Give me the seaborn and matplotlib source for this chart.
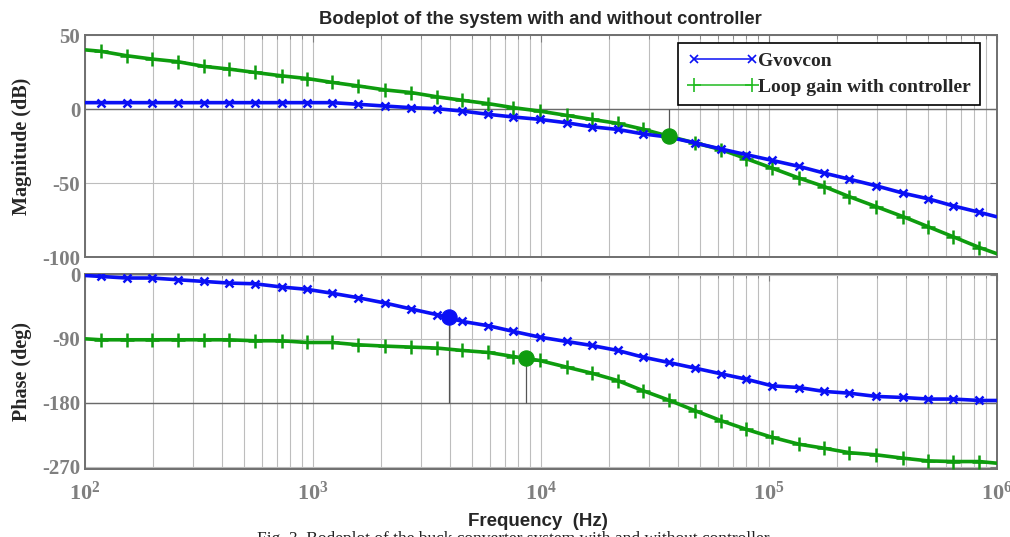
import matplotlib
matplotlib.use("Agg")
import matplotlib.pyplot as plt
import seaborn as sns
from matplotlib.lines import Line2D
from matplotlib.ticker import LogLocator, NullFormatter

# frequencies (Hz) of the plotted points (markers sit on the inner ones)
freq = [100, 118, 153, 197, 256, 334, 430, 559, 734, 946, 1218, 1585, 2083,
        2710, 3526, 4541, 5908, 7608, 9900, 13010, 16760, 21800, 28080, 36530,
        47530, 61820, 79620, 103600, 136200, 175400, 225800, 296800, 390100,
        502400, 647100, 841400, 1000000]

gvovcon_mag = [4.3, 4.3, 4.3, 4.3, 4.3, 4.3, 4.3, 4.3, 4.3, 4.3, 4.3, 3.2, 2.0,
               0.9, 0.2, -1.4, -3.6, -5.4, -7.0, -9.3, -12.0, -13.8, -16.8, -19.0,
               -22.9, -27.0, -30.8, -34.7, -38.8, -43.3, -47.4, -51.9, -56.9,
               -60.7, -65.5, -69.8, -72.8]
loop_mag = [40, 39, 36, 33.8, 32, 28.8, 27, 24.7, 22.4, 20.6, 18, 15.6, 12.9,
            11.1, 8.2, 5.9, 3.6, 0.9, -1.4, -4.3, -7.0, -9.7, -13.6, -18.4,
            -22.9, -27.4, -33.5, -39.9, -46.7, -52.4, -59.2, -66, -72.8,
            -79.6, -86.4, -93.6, -97.7]

gvovcon_phase = [-1, -2.4, -4.6, -4.6, -7, -9.4, -11.7, -12.7, -17.3, -20.5,
                 -26, -32.3, -39.8, -48.2, -56.2, -65.6, -71.7, -79.7, -87.6,
                 -93.8, -99.4, -106.4, -115.7, -123.3, -131.2, -139.2, -146.7,
                 -156.1, -158.5, -164, -166.4, -171, -172.5, -174.7, -174.7,
                 -176.7, -176.7]
loop_phase = [-90, -91.4, -91.4, -91.4, -91.4, -91.4, -91.4, -92.8, -92.8,
              -95.2, -95.2, -98.4, -100.3, -101.7, -103.1, -106.4, -109.2,
              -114.9, -120.5, -129.8, -138.3, -148.7, -162.8, -176.2, -190.9,
              -205, -217.1, -228.4, -238.2, -243.8, -250, -253.1, -257.8,
              -261.6, -262.5, -262.5, -264.8]

# stability margin points
gm_freq, gm_mag = 36530, -18.4
pm_blue_freq, pm_blue_phase = 3981, -59.5
pm_green_freq, pm_green_phase = 8670, -117.2

mag_ticks = [50, 0, -50, -100]
phase_ticks = [0, -90, -180, -270]
decades = [1e2, 1e3, 1e4, 1e5, 1e6]
decade_labels = [r"$\mathbf{10^{2}}$", r"$\mathbf{10^{3}}$", r"$\mathbf{10^{4}}$",
                 r"$\mathbf{10^{5}}$", r"$\mathbf{10^{6}}$"]

BLUE = "#0a10f5"
GREEN = "#0e9c0e"
GRAY = "#7f7f7f"
GRID = "#bdbdbd"

sns.set_style("white")
plt.rcParams["font.family"] = ["Liberation Serif", "DejaVu Sans"]
plt.rcParams["axes.unicode_minus"] = False
plt.rcParams["mathtext.fontset"] = "custom"
plt.rcParams["mathtext.rm"] = "Liberation Serif"
plt.rcParams["mathtext.bf"] = "Liberation Serif:bold"

fig = plt.figure(figsize=(10.1, 5.37), dpi=100)
ax1 = fig.add_axes([0.0837, 0.5214, 0.903, 0.4134])
ax2 = fig.add_axes([0.0837, 0.1266, 0.903, 0.3631])

for ax in (ax1, ax2):
    ax.set_xscale("log")

inner = slice(1, -1)
sns.lineplot(x=freq, y=gvovcon_mag, ax=ax1, color=BLUE, lw=2.6, marker="x",
             ms=6, mew=1.8, mec=BLUE, markevery=inner, sort=False, legend=False, zorder=4)
sns.lineplot(x=freq, y=loop_mag, ax=ax1, color=GREEN, lw=2.6, marker="+",
             ms=10, mew=1.8, mec=GREEN, markevery=inner, sort=False, legend=False, zorder=3)
sns.lineplot(x=freq, y=gvovcon_phase, ax=ax2, color=BLUE, lw=2.6, marker="x",
             ms=6, mew=1.8, mec=BLUE, markevery=inner, sort=False, legend=False, zorder=4)
sns.lineplot(x=freq, y=loop_phase, ax=ax2, color=GREEN, lw=2.6, marker="+",
             ms=10, mew=1.8, mec=GREEN, markevery=inner, sort=False, legend=False, zorder=3)

# margin markers
ax1.vlines(gm_freq, gm_mag, 0, color="#555555", lw=0.9, zorder=2)
ax2.vlines(pm_blue_freq, -180, pm_blue_phase, color="#555555", lw=0.9, zorder=2)
ax2.vlines(pm_green_freq, -180, pm_green_phase, color="#555555", lw=0.9, zorder=2)
sns.scatterplot(x=[gm_freq], y=[gm_mag], ax=ax1, color=GREEN, s=120,
                edgecolor=GREEN, zorder=6, legend=False)
sns.scatterplot(x=[pm_blue_freq], y=[pm_blue_phase], ax=ax2, color=BLUE, s=120,
                edgecolor=BLUE, zorder=6, legend=False)
sns.scatterplot(x=[pm_green_freq], y=[pm_green_phase], ax=ax2, color=GREEN, s=120,
                edgecolor=GREEN, zorder=6, legend=False)

ax1.set_ylim(-100, 50)
ax2.set_ylim(-273, 1)
ax1.set_yticks(mag_ticks)
ax1.set_yticklabels([str(t) for t in mag_ticks])
ax2.set_yticks(phase_ticks)
ax2.set_yticklabels([str(t) for t in phase_ticks])
ax1.axhline(0, color="#6a6a6a", lw=1.0, zorder=1)
ax2.axhline(-180, color="#6a6a6a", lw=1.0, zorder=1)

for ax in (ax1, ax2):
    ax.set_xlim(100, 1e6)
    ax.set_xticks(decades)
    ax.xaxis.set_minor_locator(LogLocator(base=10, subs=range(2, 10), numticks=20))
    ax.xaxis.set_minor_formatter(NullFormatter())
    ax.grid(True, which="both", axis="x", color=GRID, lw=0.8)
    ax.grid(True, which="major", axis="y", color=GRID, lw=0.8)
    ax.tick_params(which="both", direction="in", top=True, right=True, color=GRAY)
    ax.tick_params(which="major", length=5)
    ax.tick_params(which="minor", length=3)
    ax.tick_params(axis="y", pad=3, labelcolor=GRAY, labelsize=15)
    for lab in ax.get_yticklabels():
        lab.set_fontweight("bold")
    for sp in ax.spines.values():
        sp.set_color("#6f6f6f")
        sp.set_linewidth(1.4)
    ax.set_xlabel("")
    ax.set_ylabel("")

ax1.set_xticklabels([])
ax2.set_xticklabels(decade_labels)
ax2.tick_params(axis="x", pad=9, labelcolor=GRAY, labelsize=16)

ax1.set_ylabel("Magnitude (dB)", fontsize=14.5, fontweight="bold")
ax2.set_ylabel("Phase (deg)", fontsize=14.5, fontweight="bold")
ax1.yaxis.set_label_coords(-0.058, 0.5)
ax2.yaxis.set_label_coords(-0.058, 0.5)

ax1.set_title("Bodeplot of the system with and without controller",
              family="Liberation Sans", fontsize=13.2, fontweight="bold", pad=8)
ax2.set_xlabel("Frequency  (Hz)", family="Liberation Sans", fontsize=13.5,
               fontweight="bold")
ax2.xaxis.set_label_coords(0.497, -0.225)

handles = [Line2D([], [], color=BLUE, lw=1.1, marker="x", ms=6, mew=1.2),
           Line2D([], [], color="#22bb22", lw=1.1, marker="+", ms=10, mew=1.2)]
leg = ax1.legend(handles, ["Gvovcon", "Loop gain with controller"],
                 loc="upper right", bbox_to_anchor=(0.982, 0.965), numpoints=2,
                 borderaxespad=0.0, handlelength=3.6, handletextpad=0.0,
                 borderpad=0.5, labelspacing=0.4, fancybox=False, framealpha=1,
                 edgecolor="black", prop=dict(family="Liberation Serif",
                                              weight="bold", size=14))
leg.get_frame().set_linewidth(1.2)

# figure caption, mostly cut off by the lower edge as in the source image
fig.text(0.2545, -0.0121,
         "Fig. 3. Bodeplot of the buck converter system with and without controller",
         fontsize=12.5, va="baseline", ha="left", color="#222222")

fig.savefig("out.png", dpi=100)
